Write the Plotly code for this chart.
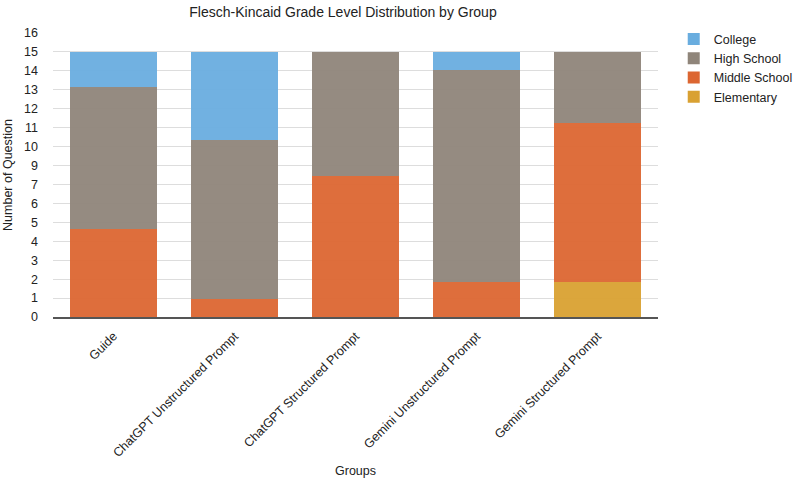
import plotly.graph_objects as go

groups = ["Guide", "ChatGPT Unstructured Prompt", "ChatGPT Structured Prompt",
          "Gemini Unstructured Prompt", "Gemini Structured Prompt"]
elementary = [0, 0, 0, 0, 2]
middle_school = [5, 1, 8, 2, 9]
high_school = [8, 9, 7, 12, 4]
college = [2, 5, 0, 1, 0]

tick_labels = ["0", "1", "2", "3", "4", "5", "6", "7", "9", "10", "11", "12", "13", "14", "15", "16"]
tick_step = 15 / 14
tick_vals = [i * tick_step for i in range(len(tick_labels))]

series = [
    ("Elementary", elementary, "#D9A132"),
    ("Middle School", middle_school, "#DC6631"),
    ("High School", high_school, "#8F857A"),
    ("College", college, "#69ADDF"),
]

fig = go.Figure()
for name, vals, color in series:
    fig.add_trace(go.Bar(
        x=groups, y=vals, name=name,
        marker=dict(color=color, opacity=0.95, line=dict(width=0)),
    ))

font = "Liberation Sans, Arial, Helvetica, sans-serif"
fig.update_layout(
    barmode="stack",
    bargap=0.28,
    width=794, height=482,
    margin=dict(l=53, r=136, t=33, b=165, autoexpand=False),
    paper_bgcolor="white", plot_bgcolor="white",
    font=dict(family=font, size=12.5, color="#222"),
    title=dict(text="Flesch-Kincaid Grade Level Distribution by Group",
               x=0.432, xanchor="center", y=0.985, yanchor="top",
               font=dict(size=14, color="#222")),
    legend=dict(x=1.026, y=1.03, xanchor="left", yanchor="top",
                traceorder="reversed", font=dict(size=12.5, color="#222"),
                tracegroupgap=0, itemwidth=30),
    showlegend=True,
)
fig.update_xaxes(
    tickangle=-45, tickfont=dict(size=12.5, color="#222"),
    showline=True, linecolor="#555", linewidth=2,
    title=dict(text="Groups", font=dict(size=12.5, color="#222"), standoff=7),
    ticks="", showgrid=False, ticklabelstandoff=5,
)
fig.update_yaxes(
    range=[0, tick_vals[-1]],
    tickmode="array", tickvals=tick_vals, ticktext=tick_labels,
    tickfont=dict(size=12.5, color="#222"),
    showgrid=True, gridcolor="#DDDDDD", gridwidth=1,
    zeroline=False, showline=False, ticklabelstandoff=14,
    title=dict(text="Number of Question", font=dict(size=12.5, color="#222"), standoff=8),
)

fig.write_html("out.html")
